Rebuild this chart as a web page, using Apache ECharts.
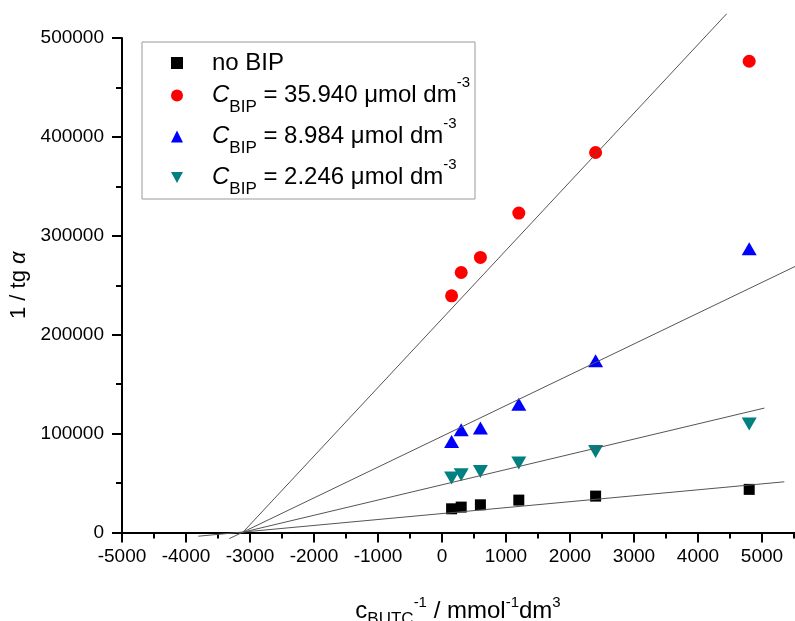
<!DOCTYPE html>
<html><head><meta charset="utf-8">
<script src="https://cdn.jsdelivr.net/npm/echarts@6/dist/echarts.min.js"></script>
<style>html,body{margin:0;padding:0;background:#fff}#c{width:795px;height:621px}</style>
</head><body><div id="c"></div>
<script>
// ---- data ----
const xValues   = [150, 300, 600, 1200, 2400, 4800];
const noBip     = [23960, 25680, 28010, 32760, 36800, 43600];
const bip35940  = [239300, 262900, 278100, 323000, 384200, 476500];
const bip8984   = [92000, 103800, 105600, 129800, 173600, 287000];
const bip2246   = [55000, 58300, 61700, 70200, 81900, 109800];

// fitted straight lines: [x, y] end points
const fitNoBip    = [[-3808, -3740], [5348, 51260]];
const fitBip35940 = [[-3114, 0], [4448, 524500]];
const fitBip8984  = [[-3323, -6200], [5600, 271600]];
const fitBip2246  = [[-3131, 0], [5036, 125800]];

const seriesNames = ['noBIP', 'bip35940', 'bip8984', 'bip2246'];
const legendLabels = {
  noBIP:    '{p|no BIP}',
  bip35940: '{i|C}{sub|BIP}{t| = 35.940 μmol dm}{sup|-3}',
  bip8984:  '{i|C}{sub|BIP}{t| = 8.984 μmol dm}{sup|-3}',
  bip2246:  '{i|C}{sub|BIP}{t| = 2.246 μmol dm}{sup|-3}'
};
const xAxisTitle = '{t|c}{sub|BUTC}{sup|-1}{t| / mmol}{sup|-1}{t|dm}{sup|3}';
const yAxisTitle = '{t|1 / tg }{a|α}';

const FONT = "'Liberation Sans', Arial, sans-serif";
const pairs = ys => xValues.map((x, i) => [x, ys[i]]);

const chart = echarts.init(document.getElementById('c'), null, {renderer: 'canvas'});

const axisCommon = {
  type: 'value',
  axisLine: {show: true, onZero: false, lineStyle: {color: '#000', width: 2}},
  axisTick: {show: true, inside: false, length: 10, lineStyle: {color: '#000', width: 2}},
  minorTick: {show: true, splitNumber: 2, length: 6, lineStyle: {color: '#000', width: 2}},
  splitLine: {show: false},
  minorSplitLine: {show: false},
  axisLabel: {fontFamily: FONT, fontSize: 19, color: '#000', formatter: v => String(v)}
};

const lineSeries = (data) => ({
  type: 'line', data: data, symbol: 'none', clip: false, silent: true,
  lineStyle: {color: '#555', width: 1}, z: 5, legendHoverLink: false
});

chart.setOption({
  animation: false,
  backgroundColor: '#fff',
  grid: {left: 122, top: 38, width: 704, height: 494.5, containLabel: false, outerBoundsMode: 'none'},
  xAxis: Object.assign({}, axisCommon, {
    min: -5000, max: 6000, interval: 1000,
    axisLabel: Object.assign({}, axisCommon.axisLabel, {margin: 15}),
    name: xAxisTitle, nameLocation: 'middle', nameGap: 63,
    nameTextStyle: {
      fontFamily: FONT, color: '#000', padding: [0, 32, 0, 0],
      rich: {
        t: {fontFamily: FONT, fontSize: 24, lineHeight: 32, color: '#000'},
        sub: {fontFamily: FONT, fontSize: 17, lineHeight: 14, verticalAlign: 'bottom', color: '#000'},
        sup: {fontFamily: FONT, fontSize: 15, lineHeight: 18, verticalAlign: 'top', color: '#000'}
      }
    }
  }),
  yAxis: Object.assign({}, axisCommon, {
    min: 0, max: 500000, interval: 100000,
    axisLabel: Object.assign({}, axisCommon.axisLabel, {margin: 18}),
    name: yAxisTitle, nameLocation: 'middle', nameGap: 86, nameRotate: 90,
    nameTextStyle: {
      fontFamily: FONT, color: '#000',
      rich: {
        t: {fontFamily: FONT, fontSize: 22, color: '#000'},
        a: {fontFamily: FONT, fontSize: 22, fontStyle: 'italic', color: '#000'}
      }
    }
  }),
  legend: {
    orient: 'vertical', left: 142, top: 42,
    itemWidth: 12, itemHeight: 12, itemGap: 0,
    padding: [9, 5, 1, 29],
    borderColor: '#999', borderWidth: 1,
    selectedMode: false,
    data: seriesNames,
    formatter: n => legendLabels[n],
    textStyle: {
      fontFamily: FONT, fontSize: 24, color: '#000',
      rich: {
        p: {fontFamily: FONT, fontSize: 24, lineHeight: 20, padding: [0, 0, 0, 24], color: '#000'},
        t: {fontFamily: FONT, fontSize: 24, lineHeight: 41, color: '#000'},
        i: {fontFamily: FONT, fontSize: 24, lineHeight: 41, fontStyle: 'italic', padding: [0, 0, 0, 24], color: '#000'},
        sub: {fontFamily: FONT, fontSize: 17, lineHeight: 22, verticalAlign: 'bottom', color: '#000'},
        sup: {fontFamily: FONT, fontSize: 15, lineHeight: 30, verticalAlign: 'top', color: '#000'}
      }
    }
  },
  series: [
    {name: 'noBIP', type: 'scatter', data: pairs(noBip), symbol: 'rect', symbolSize: 11,
     itemStyle: {color: '#000', opacity: 1}, z: 3},
    {name: 'bip35940', type: 'scatter', data: pairs(bip35940), symbol: 'circle', symbolSize: 13,
     itemStyle: {color: '#ff0000', opacity: 1}, z: 3},
    {name: 'bip8984', type: 'scatter', data: pairs(bip8984), symbol: 'triangle', symbolSize: [15, 13],
     itemStyle: {color: '#0000ff', opacity: 1}, z: 3},
    {name: 'bip2246', type: 'scatter', data: pairs(bip2246), symbol: 'path://M0,0L10,0L5,9Z', symbolSize: [15, 13],
     itemStyle: {color: '#008080', opacity: 1}, z: 3},
    lineSeries(fitNoBip),
    lineSeries(fitBip35940),
    lineSeries(fitBip8984),
    lineSeries(fitBip2246)
  ]
});
</script>
</body></html>
